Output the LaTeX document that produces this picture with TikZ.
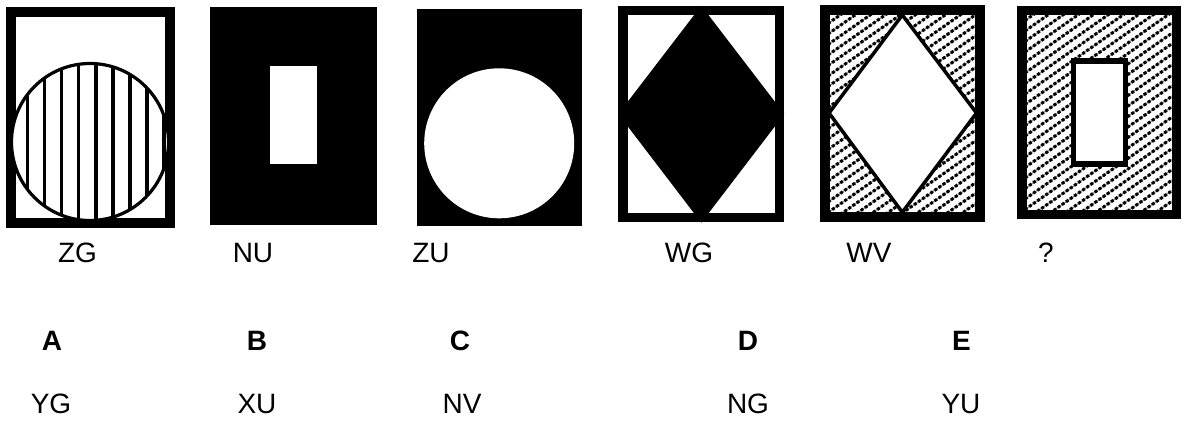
\documentclass[tikz,border=0pt]{standalone}
\usepackage{fontspec}
\setmainfont{Liberation Sans}
\tikzset{
  frame/.style={draw=black, line width=9.7},
  hatchline/.style={draw=black, line width=3, dash pattern=on 3pt off 2pt},
  hatchbase/.style={draw=black!45, line width=1.2},
  lbl/.style={font=\fontsize{28}{34}\selectfont, inner sep=0pt},
  optlbl/.style={font=\fontsize{28}{34}\selectfont\bfseries, inner sep=0pt},
}
\begin{document}
\begin{tikzpicture}[x=1pt,y=-1pt]
\useasboundingbox (0,0) rectangle (1185,421);
\fill[white] (0,0) rectangle (1185,421);

% ---- Figure 1: ZG ----
\draw[frame, line width=10] (10.5,11.5) rectangle (169.5,223);
\fill[white] (90,142) circle[radius=78.5];
\begin{scope}
  \clip (90,142) circle[radius=78.5];
  \foreach \k in {0,...,8} {
    \draw[line width=3.6] ({27.3+17.1*\k},50) -- ({27.3+17.1*\k},230);
  }
\end{scope}
\draw[line width=3.2] (90,142) circle[radius=78.5];

% ---- Figure 2: NU ----
\fill[black] (210,7) rectangle (376.7,225);
\fill[white] (270,66) rectangle (316.7,164);

% ---- Figure 3: ZU ----
\fill[black] (416.7,9.3) rectangle (581.7,225.7);
\fill[white] (499.2,143.3) circle[radius=75];

% ---- Figure 4: WG ----
\draw[frame, line width=9.5] (623,10.3) rectangle (779.7,217.7);
\fill[black] (701.3,5.7) -- (784.3,114) -- (701.3,222.7) -- (618.3,114) -- cycle;

% ---- Figure 5: WV ----
\begin{scope}
  \clip (830,15) rectangle (975,212.3);
  \foreach \c in {0,10.5,...,320} {
    \draw[hatchbase] (828,{13+\c}) -- ++(160,-112);
    \draw[hatchline] (828,{13+\c}) -- ++(160,-112);
  }
\end{scope}
\draw[black, line width=3.5, fill=white] (902.3,15) -- (976.5,113) -- (902.3,212.3) -- (829,113) -- cycle;
\draw[frame] (825,10.3) rectangle (980,217);

% ---- Figure 6: ? ----
\begin{scope}
  \clip (1026.7,15) rectangle (1171.7,209.3);
  \foreach \c in {0,10.5,...,320} {
    \draw[hatchbase] (1025,{10+\c}) -- ++(160,-112);
    \draw[hatchline] (1025,{10+\c}) -- ++(160,-112);
  }
\end{scope}
\draw[frame, line width=9.5] (1022,10.3) rectangle (1176.3,214.3);
\draw[black, line width=5.5, fill=white] (1073.7,61) rectangle (1125.5,164);

% ---- Labels under figures ----
\node[lbl] (l1) at (77.5,253) {ZG};
\node[lbl] (l2) at (253,253) {NU};
\node[lbl] (l3) at (431,253) {ZU};
\node[lbl] (l4) at (689,253) {WG};
\node[lbl] (l5) at (869,253) {WV};
\node[lbl] (l6) at (1046,253) {?};

% ---- Options ----
\node[optlbl] (oA) at (52,341) {A};
\node[optlbl] (oB) at (257,341) {B};
\node[optlbl] (oC) at (460,341) {C};
\node[optlbl] (oD) at (748,341) {D};
\node[optlbl] (oE) at (961.5,341) {E};

\node[lbl] (aA) at (51,404) {YG};
\node[lbl] (aB) at (257,404) {XU};
\node[lbl] (aC) at (462,404) {NV};
\node[lbl] (aD) at (748,404) {NG};
\node[lbl] (aE) at (961,404) {YU};
\end{tikzpicture}
\end{document}
